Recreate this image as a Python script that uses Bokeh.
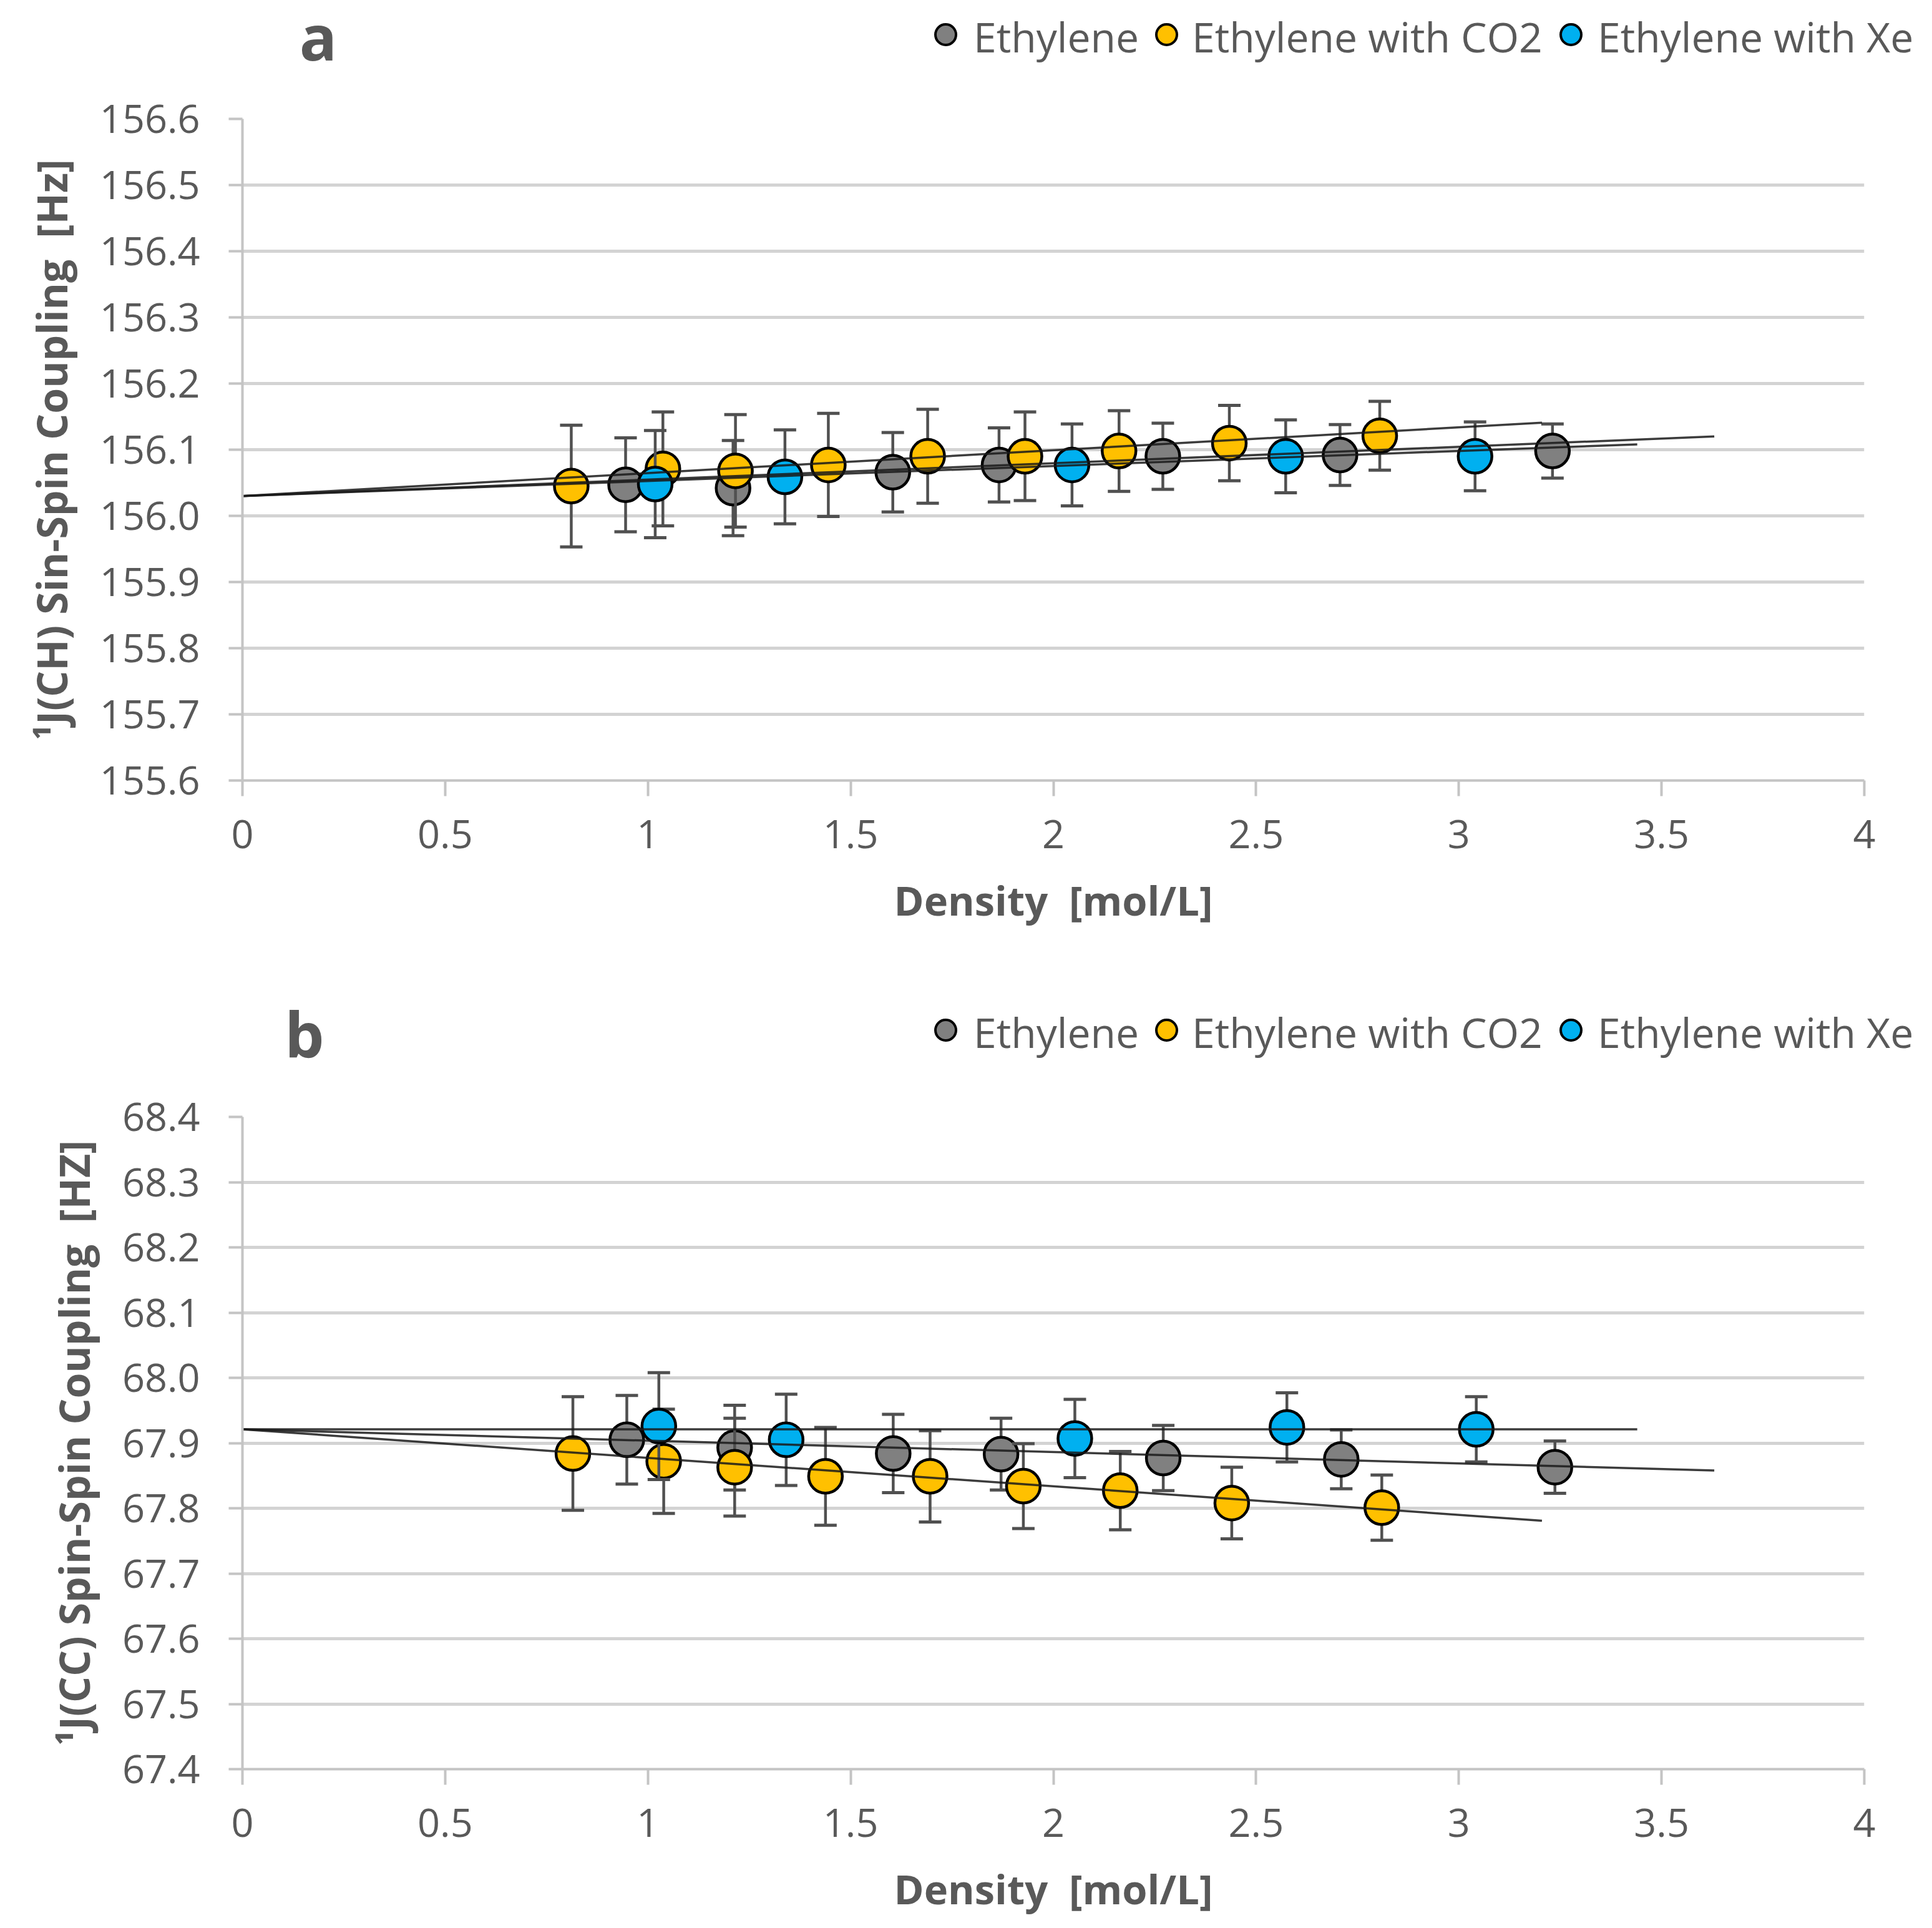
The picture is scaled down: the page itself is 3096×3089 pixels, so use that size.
import numpy as np
from bokeh.plotting import figure
from bokeh.models import (ColumnDataSource, FixedTicker, Div,
                          PrintfTickFormatter, NumeralTickFormatter, Range1d)
from bokeh.layouts import column
from bokeh.embed import file_html
from bokeh.resources import INLINE

# ---------------- data ----------------
series_names = ["Ethylene", "Ethylene with CO2", "Ethylene with Xe"]
series_colors = ["#808080", "#FFC000", "#00B0F0"]

x_ticks = [0, 0.5, 1, 1.5, 2, 2.5, 3, 3.5, 4]

# panel a : 1J(CH)
a_y_ticks = [155.6, 155.7, 155.8, 155.9, 156.0, 156.1, 156.2, 156.3, 156.4, 156.5, 156.6]
a_eth_x = [0.945, 1.21, 1.604, 1.866, 2.27, 2.707, 3.231]
a_eth_y = [156.047, 156.042, 156.066, 156.077, 156.090, 156.092, 156.098]
a_eth_err = [0.071, 0.072, 0.060, 0.056, 0.050, 0.046, 0.041]
a_co2_x = [0.811, 1.037, 1.216, 1.445, 1.69, 1.93, 2.162, 2.434, 2.805]
a_co2_y = [156.045, 156.071, 156.068, 156.077, 156.090, 156.090, 156.098, 156.110, 156.121]
a_co2_err = [0.092, 0.086, 0.085, 0.078, 0.071, 0.067, 0.061, 0.057, 0.052]
a_xe_x = [1.018, 1.338, 2.046, 2.573, 3.04]
a_xe_y = [156.048, 156.059, 156.077, 156.090, 156.090]
a_xe_err = [0.081, 0.071, 0.062, 0.055, 0.052]
a_trend_intercept = 156.030
a_trend_slope = [0.0248, 0.0346, 0.0227]
a_trend_end = [3.63, 3.205, 3.44]

# panel b : 1J(CC)
b_y_ticks = [67.4, 67.5, 67.6, 67.7, 67.8, 67.9, 68.0, 68.1, 68.2, 68.3, 68.4]
b_eth_x = [0.948, 1.214, 1.605, 1.871, 2.271, 2.71, 3.237]
b_eth_y = [67.905, 67.893, 67.884, 67.883, 67.877, 67.875, 67.863]
b_eth_err = [0.068, 0.065, 0.060, 0.055, 0.050, 0.045, 0.040]
b_co2_x = [0.815, 1.039, 1.214, 1.438, 1.696, 1.926, 2.165, 2.44, 2.81]
b_co2_y = [67.884, 67.872, 67.863, 67.849, 67.849, 67.834, 67.827, 67.808, 67.801]
b_co2_err = [0.087, 0.080, 0.075, 0.075, 0.070, 0.065, 0.060, 0.055, 0.050]
b_xe_x = [1.027, 1.341, 2.053, 2.576, 3.043]
b_xe_y = [67.926, 67.905, 67.907, 67.924, 67.921]
b_xe_err = [0.082, 0.070, 0.060, 0.053, 0.050]
b_trend_intercept = 67.921
b_trend_slope = [-0.0174, -0.0437, 0.0]
b_trend_end = [3.63, 3.205, 3.44]

TEXT = "#595959"
FONT = "Open Sans"
FIG_W = 3080


def make_header(letter, height, letter_cx, letter_baseline, legend_cy):
    """Panel letter and legend (HTML), positions in pixels."""
    parts = [f'<div style="position:relative;width:{FIG_W}px;height:{height}px;'
             f"font-family:'{FONT}';color:{TEXT};white-space:nowrap;\">"]
    parts.append(f'<span style="position:absolute;left:{letter_cx - 100}px;'
                 f'top:{letter_baseline - 89}px;width:200px;text-align:center;'
                 f'font-size:100px;line-height:1;font-weight:bold;">{letter}</span>')
    marker_cx = [1520, 1874, 2522]
    label_left = [1560, 1910, 2560]
    for name, col, mx, lx in zip(series_names, series_colors, marker_cx, label_left):
        parts.append(f'<span style="position:absolute;left:{mx - 23}px;top:{legend_cy - 23}px;'
                     f'width:37px;height:37px;border:4.5px solid #000;border-radius:50%;'
                     f'background:{col};"></span>')
        parts.append(f'<span style="position:absolute;left:{lx}px;top:{legend_cy - 35}px;'
                     f'font-size:66px;line-height:1;">{name}</span>')
    parts.append("</div>")
    return Div(text="".join(parts), width=FIG_W, height=height, margin=(0, 0, 0, 0))


def make_panel(xs, ys, errs, intercept, slopes, ends, y_ticks, ylabel,
               frame_left, frame_w, frame_top, frame_h, total_h):
    p = figure(width=FIG_W, height=total_h,
               min_border_left=frame_left, min_border_right=FIG_W - frame_left - frame_w,
               min_border_top=frame_top, min_border_bottom=total_h - frame_top - frame_h,
               x_range=Range1d(x_ticks[0], x_ticks[-1]),
               y_range=Range1d(y_ticks[0], y_ticks[-1]),
               output_backend="svg", toolbar_location=None)
    p.title.visible = False
    p.outline_line_color = None

    p.xgrid.visible = False
    p.ygrid.grid_line_color = "#d3d3d3"
    p.ygrid.grid_line_width = 5

    p.xaxis.ticker = FixedTicker(ticks=x_ticks)
    p.xaxis.formatter = NumeralTickFormatter(format="0.[0]")
    p.yaxis.ticker = FixedTicker(ticks=y_ticks)
    p.yaxis.formatter = PrintfTickFormatter(format="%.1f")

    for ax in (p.xaxis[0], p.yaxis[0]):
        ax.axis_line_color = "#c4c4c4"
        ax.axis_line_width = 4
        ax.major_tick_line_color = "#c4c4c4"
        ax.major_tick_line_width = 4
        ax.major_tick_in = 0
        ax.minor_tick_line_color = None
        ax.major_label_text_font = FONT
        ax.major_label_text_font_size = "63px"
        ax.major_label_text_color = TEXT
        ax.axis_label_text_font = FONT
        ax.axis_label_text_font_style = "bold"
        ax.axis_label_text_color = TEXT
    p.xaxis.major_tick_out = 25
    p.yaxis.major_tick_out = 22
    p.xaxis.major_label_standoff = 38
    p.yaxis.major_label_standoff = 46
    p.xaxis.axis_label = "Density\u00a0 [mol/L]"
    p.xaxis.axis_label_text_font_size = "65px"
    p.xaxis.axis_label_standoff = 36
    p.yaxis.axis_label = ylabel
    p.yaxis.axis_label_text_font_size = "66px"
    p.yaxis.axis_label_standoff = 30

    for sx, sy, se, col in zip(xs, ys, errs, series_colors):
        xa = np.array(sx); ya = np.array(sy); ea = np.array(se)
        src = ColumnDataSource(dict(x=xa, y=ya, lo=ya - ea, hi=ya + ea))
        p.segment(x0="x", y0="lo", x1="x", y1="hi", source=src,
                  line_color="#505050", line_width=4.5)
        p.scatter(x="x", y="lo", source=src, marker="dash", size=36,
                  line_color="#505050", line_width=5)
        p.scatter(x="x", y="hi", source=src, marker="dash", size=36,
                  line_color="#505050", line_width=5)
        p.scatter(x="x", y="y", source=src, marker="circle", size=54,
                  fill_color=col, line_color="black", line_width=4.5)

    for sl, en in zip(slopes, ends):
        tx = np.array([0.0, en])
        ty = intercept + sl * tx
        p.line(tx, ty, line_color="#1a1a1a", line_width=3.5, line_alpha=0.85)
    return p


ha = make_header("a", 140, 510, 97, 60)
pa = make_panel([a_eth_x, a_co2_x, a_xe_x], [a_eth_y, a_co2_y, a_xe_y],
                [a_eth_err, a_co2_err, a_xe_err], a_trend_intercept, a_trend_slope,
                a_trend_end, a_y_ticks, "\u00b9J(CH) Sin-Spin Coupling\u00a0 [Hz]",
                frame_left=388, frame_w=2599, frame_top=50, frame_h=1060, total_h=1410)
hb = make_header("b", 185, 488, 145, 105)
pb = make_panel([b_eth_x, b_co2_x, b_xe_x], [b_eth_y, b_co2_y, b_xe_y],
                [b_eth_err, b_co2_err, b_xe_err], b_trend_intercept, b_trend_slope,
                b_trend_end, b_y_ticks, "\u00b9J(CC) Spin-Spin Coupling\u00a0 [HZ]",
                frame_left=388, frame_w=2599, frame_top=54, frame_h=1045, total_h=1339)

layout = column(ha, pa, hb, pb)
open("out.html", "w").write(file_html(layout, INLINE))
